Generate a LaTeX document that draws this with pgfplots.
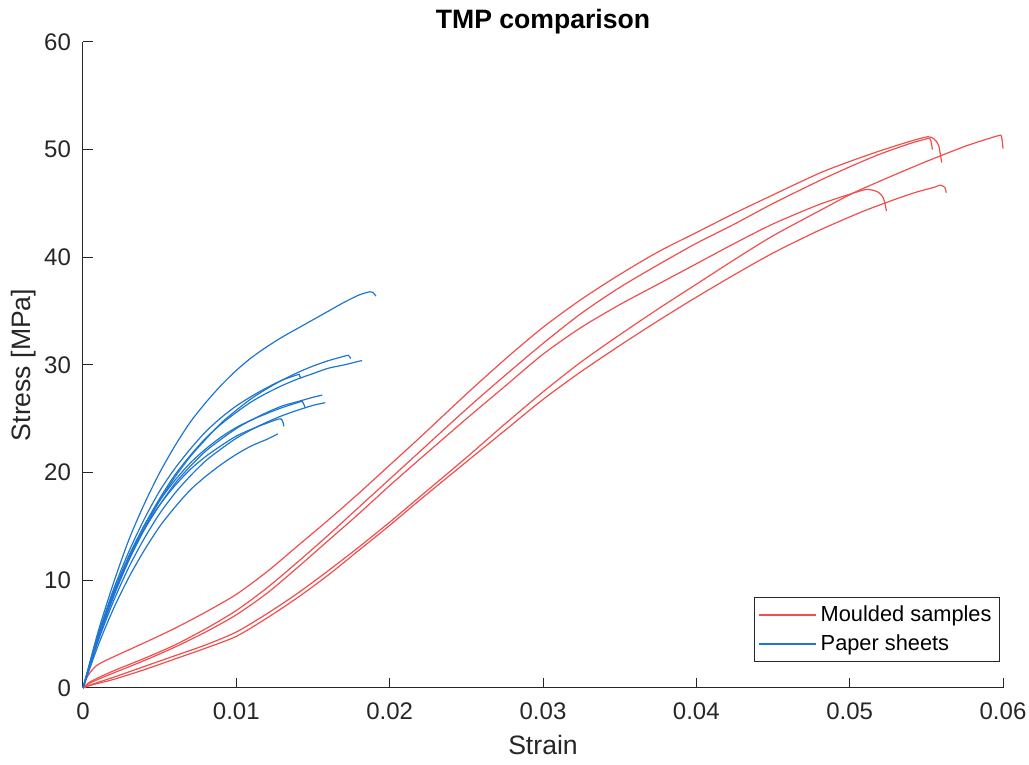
\documentclass[border=0pt]{standalone}
\usepackage{pgfplots}
\pgfplotsset{compat=1.18}
\usepackage{fontspec}
\setmainfont{Liberation Sans}
\definecolor{mred}{RGB}{242,78,78}
\definecolor{mblue}{RGB}{30,118,208}
\definecolor{axgray}{rgb}{0.15,0.15,0.15}
\begin{document}
\begin{tikzpicture}
\begin{axis}[name=ax, at={(0,0)}, anchor=south west, scale only axis,
  width=460pt, height=323pt,
  xmin=0, xmax=0.06, ymin=0, ymax=60, clip=false,
  xtick={0,0.01,0.02,0.03,0.04,0.05,0.06},
  ytick={0,10,20,30,40,50,60},
  axis lines*=left, axis line style={axgray,-,line width=0.5pt},
  tick style={axgray,line width=0.5pt}, major tick length=5pt, tick align=inside,
  /pgf/number format/assume math mode=true,
  tick label style={font=\fontsize{12}{14}\selectfont, text=axgray},
  scaled x ticks=false,
  xticklabel style={/pgf/number format/fixed, /pgf/number format/precision=2, yshift=-4pt},
  yticklabel style={xshift=-2.5pt},
  xlabel={Strain}, ylabel={Stress [MPa]},
  label style={font=\fontsize{13.3}{15}\selectfont, text=axgray},
  xlabel style={at={(axis description cs:0.5,-0.088)}, anchor=center},
  ylabel style={at={(axis description cs:-0.0641,0.5)}, anchor=center},
  title={TMP comparison},
  title style={font=\bfseries\fontsize{13.3}{15}\selectfont, at={(axis description cs:0.5,1.031)}, anchor=center, yshift=-6pt},
  legend style={at={(0.9967,0.0407)}, anchor=south east, draw=axgray,
    font=\fontsize{10.9}{13}\selectfont, inner xsep=2pt, inner ysep=2pt, row sep=1pt},
  legend cell align=left,
  legend image code/.code={\draw[#1, line width=0.65pt] (0pt,0pt) -- (28.5pt,0pt);},
  every axis plot/.append style={line width=0.6pt, smooth, tension=0.45},
]
% Moulded samples
\addplot[draw=mred] coordinates {(0,0)(0.0003,1.1)(0.0009,2.1)(0.002,2.9)(0.004,4.2)(0.006,5.55)(0.008,7.05)(0.01,8.7)(0.012,10.8)(0.014,13.2)(0.016,15.6)(0.018,18.1)(0.02,20.7)(0.022,23.3)(0.025,27.3)(0.0275,30.5)(0.03,33.5)(0.0325,36.1)(0.035,38.4)(0.0375,40.5)(0.04,42.3)(0.0425,44.1)(0.045,45.8)(0.048,47.8)(0.05,48.9)(0.052,49.9)(0.054,50.8)(0.0551,51.2)(0.0555,51.0)(0.0558,50.4)(0.056,48.8)};
\addlegendentry{Moulded samples}
\addlegendimage{draw=mblue, color=mblue}
\addlegendentry{Paper sheets}
\addplot[draw=mred, forget plot] coordinates {(0,0)(0.0005,0.6)(0.002,1.6)(0.004,2.75)(0.006,4.0)(0.008,5.5)(0.01,7.2)(0.012,9.3)(0.014,11.7)(0.016,14.2)(0.018,16.8)(0.02,19.4)(0.022,22.0)(0.025,25.9)(0.0275,29.0)(0.03,32.0)(0.0325,34.8)(0.035,37.2)(0.0375,39.3)(0.04,41.3)(0.0425,43.1)(0.045,45.0)(0.048,47.1)(0.05,48.4)(0.052,49.6)(0.054,50.6)(0.055,51.0)(0.0552,51.05)(0.0553,50.8)(0.0554,50.0)};
\addplot[draw=mred, forget plot] coordinates {(0,0)(0.0005,0.5)(0.002,1.4)(0.004,2.55)(0.006,3.8)(0.008,5.2)(0.01,6.8)(0.012,8.8)(0.014,11.2)(0.016,13.7)(0.018,16.2)(0.02,18.8)(0.022,21.3)(0.025,25.0)(0.0275,28.0)(0.03,31.0)(0.0325,33.5)(0.035,35.6)(0.0375,37.5)(0.04,39.4)(0.0425,41.3)(0.045,43.1)(0.048,44.9)(0.0502,45.95)(0.0511,46.3)(0.0518,46.1)(0.0522,45.5)(0.0524,44.3)};
\addplot[draw=mred, forget plot] coordinates {(0,0)(0.0005,0.3)(0.002,1.0)(0.004,2.0)(0.006,3.0)(0.008,4.0)(0.01,5.2)(0.012,6.9)(0.014,8.8)(0.016,10.9)(0.018,13.1)(0.02,15.4)(0.022,17.8)(0.025,21.4)(0.0275,24.5)(0.03,27.5)(0.0325,30.3)(0.035,32.8)(0.0375,35.2)(0.04,37.5)(0.0425,39.8)(0.045,42.0)(0.048,44.3)(0.0502,45.95)(0.0525,47.4)(0.055,48.9)(0.0575,50.3)(0.059,51.0)(0.0597,51.3)(0.0599,51.25)(0.06,50.1)};
\addplot[draw=mred, forget plot] coordinates {(0,0)(0.0005,0.25)(0.002,0.8)(0.004,1.7)(0.006,2.7)(0.008,3.7)(0.01,4.8)(0.012,6.5)(0.014,8.4)(0.016,10.5)(0.018,12.8)(0.02,15.1)(0.022,17.5)(0.025,21.0)(0.0275,23.9)(0.03,26.8)(0.0325,29.4)(0.035,31.8)(0.0375,34.1)(0.04,36.3)(0.0425,38.4)(0.045,40.4)(0.048,42.5)(0.0511,44.4)(0.054,45.9)(0.0555,46.5)(0.0559,46.7)(0.0562,46.5)(0.0563,46.0)};
% Paper sheets
\addplot[draw=mblue, forget plot] coordinates {(0,0)(0.001,5.3)(0.002,9.8)(0.003,13.8)(0.004,17.1)(0.005,20.0)(0.006,22.5)(0.007,24.7)(0.008,26.5)(0.009,28.1)(0.01,29.5)(0.011,30.7)(0.012,31.7)(0.013,32.6)(0.014,33.4)(0.015,34.2)(0.016,35.0)(0.017,35.8)(0.018,36.5)(0.0187,36.8)(0.0189,36.75)(0.0191,36.4)};
\addplot[draw=mblue, forget plot] coordinates {(0,0)(0.001,4.55)(0.002,8.5)(0.003,11.9)(0.004,14.8)(0.005,17.4)(0.006,19.6)(0.007,21.5)(0.008,23.1)(0.009,24.6)(0.01,25.8)(0.011,26.9)(0.012,27.8)(0.013,28.6)(0.014,29.3)(0.015,29.9)(0.016,30.4)(0.017,30.8)(0.0173,30.9)(0.01746,30.6)};
\addplot[draw=mblue, forget plot] coordinates {(0,0)(0.001,4.7)(0.002,8.8)(0.003,12.2)(0.004,15.1)(0.005,17.6)(0.006,19.8)(0.007,21.6)(0.008,23.2)(0.009,24.5)(0.01,25.6)(0.011,26.6)(0.012,27.4)(0.013,28.1)(0.014,28.7)(0.015,29.2)(0.016,29.7)(0.017,30.0)(0.018,30.35)(0.0182,30.4)};
\addplot[draw=mblue, forget plot] coordinates {(0,0)(0.001,5.0)(0.002,9.2)(0.003,12.7)(0.004,15.7)(0.005,18.3)(0.006,20.4)(0.007,22.2)(0.008,23.8)(0.009,25.1)(0.01,26.2)(0.011,27.1)(0.012,27.9)(0.013,28.6)(0.014,29.1)(0.0141,29.1)(0.0142,28.75)};
\addplot[draw=mblue, forget plot] coordinates {(0,0)(0.001,4.7)(0.002,8.6)(0.003,11.9)(0.004,14.7)(0.005,17.0)(0.006,19.0)(0.007,20.6)(0.008,22.0)(0.009,23.1)(0.01,24.1)(0.011,24.9)(0.012,25.6)(0.013,26.2)(0.014,26.6)(0.015,27.0)(0.0156,27.2)};
\addplot[draw=mblue, forget plot] coordinates {(0,0)(0.001,4.4)(0.002,8.1)(0.003,11.25)(0.004,13.9)(0.005,16.2)(0.006,18.1)(0.007,19.7)(0.008,21.1)(0.009,22.2)(0.01,23.2)(0.011,24.0)(0.012,24.7)(0.013,25.3)(0.014,25.8)(0.015,26.25)(0.0158,26.5)};
\addplot[draw=mblue, forget plot] coordinates {(0,0)(0.001,4.9)(0.002,8.95)(0.003,12.3)(0.004,15.1)(0.005,17.4)(0.006,19.3)(0.007,20.9)(0.008,22.2)(0.009,23.3)(0.01,24.2)(0.011,24.9)(0.012,25.5)(0.013,26.05)(0.014,26.5)(0.0143,26.6)(0.0145,26.0)};
\addplot[draw=mblue, forget plot] coordinates {(0,0)(0.001,4.8)(0.002,8.8)(0.003,12.1)(0.004,14.8)(0.005,17.0)(0.006,18.8)(0.007,20.3)(0.008,21.5)(0.009,22.5)(0.01,23.4)(0.011,24.05)(0.012,24.6)(0.0129,25.0)(0.0131,24.3)};
\addplot[draw=mblue, forget plot] coordinates {(0,0)(0.001,4.0)(0.002,7.4)(0.003,10.3)(0.004,12.8)(0.005,15.0)(0.006,16.8)(0.007,18.4)(0.008,19.65)(0.009,20.75)(0.01,21.7)(0.011,22.5)(0.012,23.1)(0.0127,23.6)};
\end{axis}
\pgfresetboundingbox
\path[use as bounding box] ([shift={(-41.5pt,-38.5pt)}]ax.south west) rectangle ([shift={(13pt,21pt)}]ax.north east);
\end{tikzpicture}
\end{document}
